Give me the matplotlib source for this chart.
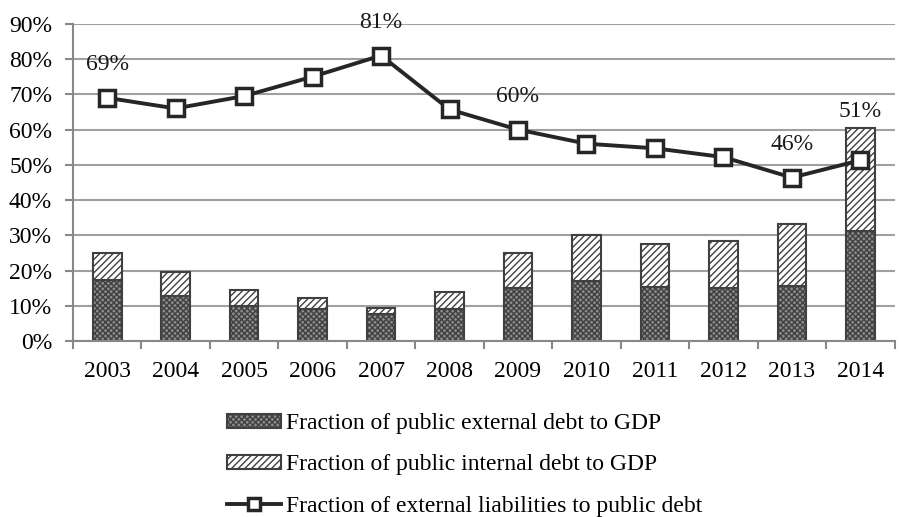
import matplotlib
matplotlib.use("Agg")
import matplotlib.pyplot as plt
import numpy as np
from matplotlib.lines import Line2D
from matplotlib.patches import Patch

years = ["2003", "2004", "2005", "2006", "2007", "2008", "2009", "2010", "2011", "2012", "2013", "2014"]
external_debt = [17.3, 12.9, 10.0, 9.2, 7.7, 9.1, 15.1, 17.0, 15.3, 15.1, 15.6, 31.2]
total_debt = [25.0, 19.7, 14.5, 12.3, 9.3, 14.0, 25.1, 30.0, 27.6, 28.5, 33.1, 60.5]
internal_debt = [t - e for t, e in zip(total_debt, external_debt)]
liabilities = [69.0, 66.0, 69.5, 75.0, 81.0, 65.7, 60.0, 56.0, 54.7, 52.2, 46.4, 51.3]
label_years = ["2003", "2007", "2009", "2013", "2014"]
label_texts = ["69%", "81%", "60%", "46%", "51%"]

plt.rcParams['font.family'] = ['Liberation Serif', 'DejaVu Serif']
plt.rcParams['hatch.linewidth'] = 1.0
plt.rcParams['hatch.color'] = '#303030'

FS = 17
fig = plt.figure(figsize=(9, 5.17), dpi=100)
ax = fig.add_axes([0.081, 0.340, 0.913, 0.614])

x = np.arange(len(years))
w = 0.42
ext_style = dict(facecolor='#8c8c8c', edgecolor='#404040', hatch='xxxxxx', linewidth=1.5)
int_style = dict(facecolor='white', edgecolor='#404040', hatch='/////', linewidth=1.5)
line_style = dict(color='#262626', linewidth=2.8, marker='s', markersize=11,
                  markerfacecolor='white', markeredgecolor='#262626', markeredgewidth=2.5)

ax.bar(x, external_debt, w, zorder=2, **ext_style)
ax.bar(x, internal_debt, w, bottom=external_debt, zorder=2, **int_style)
ax.plot(x, liabilities, zorder=3, **line_style)

for yr, t in zip(label_years, label_texts):
    i = years.index(yr)
    if total_debt[i] > liabilities[i]:
        ty = total_debt[i] + 4.5
    else:
        ty = liabilities[i] + 9.5
    ax.text(x[i], ty, t, ha='center', va='center', fontsize=FS, color='#1a1a1a', zorder=4)

ax.set_xlim(-0.5, len(years) - 0.5)
ax.set_ylim(0, 90)
ax.set_yticks(np.arange(0, 91, 10))
ax.set_yticklabels([f"{v}%" for v in range(0, 91, 10)], fontsize=FS)
ax.set_xticks(x)
ax.set_xticklabels(years, fontsize=FS)
ax.tick_params(axis='x', which='major', length=0, pad=14)
ax.set_xticks(np.arange(-0.5, len(years), 1), minor=True)
ax.tick_params(axis='x', which='minor', length=6, width=1.5, color='#888888', direction='out')
ax.tick_params(axis='y', length=6, width=1.5, color='#888888', pad=9)
ax.grid(axis='y', color='#a0a0a0', linewidth=1.5, zorder=0)
ax.set_axisbelow(True)
for s in ['top', 'right']:
    ax.spines[s].set_visible(False)
for s in ['left', 'bottom']:
    ax.spines[s].set_color('#888888')
    ax.spines[s].set_linewidth(1.5)

handles = [Patch(**ext_style), Patch(**int_style),
           Line2D([0], [0], color='#262626', linewidth=2.8, marker='s', markersize=9,
                  markerfacecolor='white', markeredgecolor='#262626', markeredgewidth=2.5)]
labels = ["Fraction of public external debt to GDP",
          "Fraction of public internal debt to GDP",
          "Fraction of external liabilities to public debt"]
fig.legend(handles, labels, loc='upper left', bbox_to_anchor=(227 / 900, 1 - 413 / 517),
           frameon=False, fontsize=FS, handlelength=2.3, handleheight=0.55,
           handletextpad=0.2, labelspacing=0.86, borderaxespad=0, borderpad=0)

fig.savefig("out.png", dpi=100)
